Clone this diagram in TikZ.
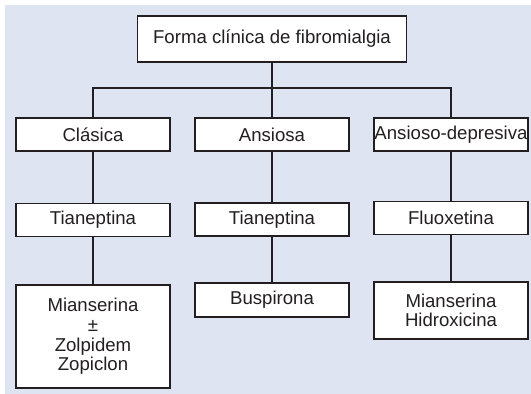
\documentclass[tikz,border=0pt]{standalone}
\usepackage{fontspec}
\setmainfont{Liberation Sans}
\definecolor{fondo}{RGB}{222,228,241}
\definecolor{tinta}{RGB}{35,31,32}
\begin{document}
\begin{tikzpicture}[x=0.5pt,y=-0.5pt,
  caja/.style={draw=tinta,line width=0.95pt,fill=white,text=tinta,align=center,
    minimum width=77pt,minimum height=16.5pt,inner sep=0pt,
    font=\fontsize{9.3pt}{9.8pt}\selectfont},
  linea/.style={draw=tinta,line width=0.95pt}]
\useasboundingbox (0,0) rectangle (531,394);
\fill[fondo] (5,5) rectangle (531,394);
% forma clinica
\node[caja,minimum width=134.5pt,minimum height=23pt] (forma) at (272,39) {Forma clínica de fibromialgia};
\node[caja] (clasica) at (93,134.5) {Clásica};
\node[caja] (ansiosa) at (272,134.5) {Ansiosa};
\node[caja] (ansdep) at (451,134.5) {Ansioso-depresiva};
% tratamiento
\node[caja] (tian1) at (93,220) {Tianeptina};
\node[caja] (tian2) at (272,219.5) {Tianeptina};
\node[caja] (fluox) at (451,218) {Fluoxetina};
\node[caja,minimum height=51.5pt] (mian1) at (93,336.5) {Mianserina\\±\\Zolpidem\\Zopiclon};
\node[caja,minimum height=17pt] (busp) at (272,300) {Buspirona};
\node[caja,minimum height=28.5pt] (mian2) at (451,310.5) {Mianserina\\Hidroxicina};
\coordinate (bus) at (272,88);
\draw[linea] (forma) -- (ansiosa);
\draw[linea] (clasica.north) |- (bus) -| (ansdep.north);
\draw[linea] (clasica) -- (tian1) -- (mian1);
\draw[linea] (ansiosa) -- (tian2) -- (busp);
\draw[linea] (ansdep) -- (fluox) -- (mian2);
\end{tikzpicture}
\end{document}
